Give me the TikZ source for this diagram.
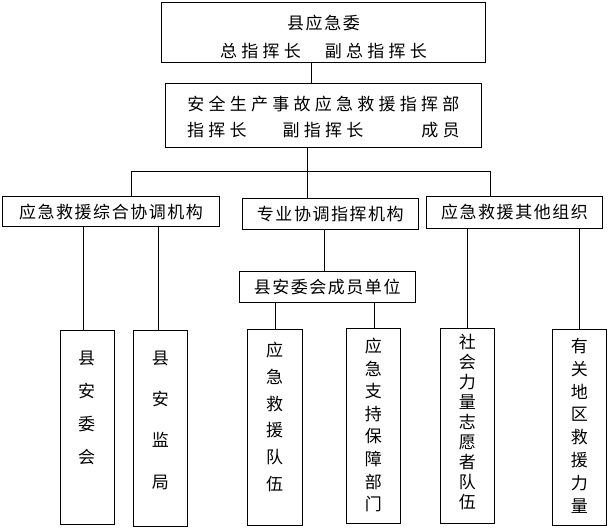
\documentclass[tikz,border=0pt]{standalone}
\usepackage{fontspec}
\newfontfamily\cjkA[LetterSpace=25]{Noto Sans CJK SC}
\newfontfamily\cjkB[LetterSpace=9]{Noto Sans CJK SC}
\newfontfamily\cjk{Noto Sans CJK SC}
\begin{document}
\begin{tikzpicture}[x=1pt,y=-1pt,
  box/.style={draw, line width=1pt, inner sep=0pt, outer sep=0pt},
  wtext/.style={font=\cjkA\fontsize{17}{#1}\selectfont, align=center},
  ntext/.style={font=\cjkB\fontsize{17}{20}\selectfont},
  vtext/.style={font=\cjk\fontsize{17}{#1}\selectfont, align=center, inner sep=0pt},
  link/.style={line width=1pt}]
\useasboundingbox (0,0) rectangle (610,529);
\fill[white] (0,0) rectangle (610,529);
% boxes
\node[box, minimum width=323.6pt, minimum height=60.3pt, wtext=28] (top) at (323.5,32.85)
  {\rule{0pt}{22pt}{\cjkB 县应急委}\\总指挥长\hspace{24pt}副总指挥长};
\node[box, minimum width=315.3pt, minimum height=64pt, wtext=26] (hq) at (323.35,116)
  {\rule{0pt}{17pt}安全生产事故应急救援指挥部\\指挥长\hspace{36pt}副指挥长\hspace{58pt}成员};
\node[box, minimum width=216.6pt, minimum height=30pt, ntext] (L) at (111,211.7) {应急救援综合协调机构};
\node[box, minimum width=176pt, minimum height=30.6pt, ntext] (M) at (330.3,214) {专业协调指挥机构};
\node[box, minimum width=175.6pt, minimum height=31.6pt, ntext] (R) at (514.5,212.5) {应急救援其他组织};
\node[box, minimum width=175.7pt, minimum height=31pt, ntext] (U) at (327.15,286.8) {县安委会成员单位};
\node[box, minimum width=54.4pt, minimum height=194pt] (v1) at (87.5,427.3) {};
\node[box, minimum width=54pt, minimum height=196.4pt] (v2) at (160.3,428.5) {};
\node[box, minimum width=54.7pt, minimum height=195.7pt] (v3) at (274.65,427.15) {};
\node[box, minimum width=54.7pt, minimum height=195.4pt] (v4) at (373.35,426) {};
\node[box, minimum width=54.3pt, minimum height=195.4pt] (v5) at (467.15,426) {};
\node[box, minimum width=54.4pt, minimum height=195.7pt] (v6) at (579.5,427.15) {};
% vertical texts
\node[vtext=33] (t1) at (86.5,407.5) {县\\安\\委\\会};
\node[vtext=41.3] (t2) at (160.3,420) {县\\安\\监\\局};
\node[vtext=26.8] (t3) at (274.5,417) {应\\急\\救\\援\\队\\伍};
\node[vtext=22.6] (t4) at (373.3,425) {应\\急\\支\\持\\保\\障\\部\\门};
\node[vtext=20] (t5) at (467.3,422.3) {社\\会\\力\\量\\志\\愿\\者\\队\\伍};
\node[vtext=22.9] (t6) at (579.3,425.7) {有\\关\\地\\区\\救\\援\\力\\量};
% x positions of connectors
\coordinate (xa) at (311,0);
\coordinate (bar) at (0,171.7);
\coordinate (xl) at (131.7,0);
\coordinate (xm) at (307.7,0);
\coordinate (xr) at (490.3,0);
\coordinate (x1) at (83.3,0);
\coordinate (x2) at (158.3,0);
\coordinate (x3) at (324.3,0);
\coordinate (x4) at (275.3,0);
\coordinate (x5) at (374.3,0);
\coordinate (x6) at (467.3,0);
\coordinate (x7) at (579.3,0);
% connectors
\draw[link] (top.south -| xa) -- (hq.north -| xa);
\draw[link] (hq.south -| xm) -- (M.north -| xm);
\draw[link] (L.north -| xl) -- (bar -| xl) -- (bar -| xr) -- (R.north -| xr);
\draw[link] (L.south -| x1) -- (v1.north -| x1);
\draw[link] (L.south -| x2) -- (v2.north -| x2);
\draw[link] (M.south -| x3) -- (U.north -| x3);
\draw[link] (U.south -| x4) -- (v3.north -| x4);
\draw[link] (U.south -| x5) -- (v4.north -| x5);
\draw[link] (R.south -| x6) -- (v5.north -| x6);
\draw[link] (R.south -| x7) -- (v6.north -| x7);
\end{tikzpicture}
\end{document}
